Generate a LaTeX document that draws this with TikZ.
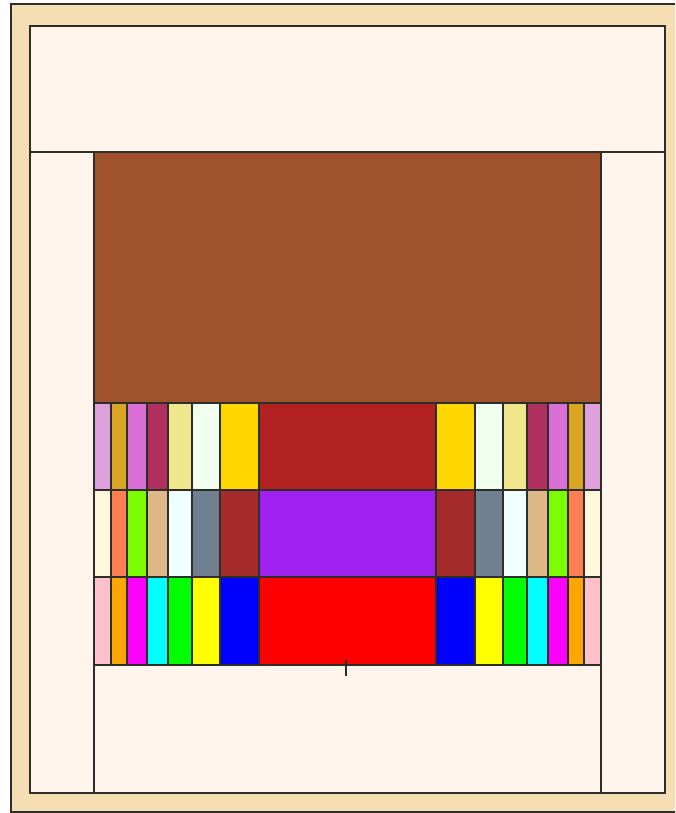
\documentclass[tikz,border=0pt]{standalone}
\definecolor{wheatc}{HTML}{F5DEB3}
\definecolor{creamc}{HTML}{FFF5EC}
\definecolor{siennac}{HTML}{A0522D}
\definecolor{linec}{HTML}{2E2E28}
\definecolor{plumc}{HTML}{DDA0DD}
\definecolor{goldenrodc}{HTML}{DAA520}
\definecolor{orchidc}{HTML}{DA70D6}
\definecolor{maroonc}{HTML}{B03060}
\definecolor{khakic}{HTML}{F0E68C}
\definecolor{honeydewc}{HTML}{F0FFF0}
\definecolor{goldc}{HTML}{FFD700}
\definecolor{firebrickc}{HTML}{B22222}
\definecolor{cornsilkc}{HTML}{FFF8DC}
\definecolor{coralc}{HTML}{FF7F50}
\definecolor{lawngreenc}{HTML}{7CFC00}
\definecolor{burlywoodc}{HTML}{DEB887}
\definecolor{azurec}{HTML}{F0FFFF}
\definecolor{slategrayc}{HTML}{708090}
\definecolor{brownc}{HTML}{A52A2A}
\definecolor{purplec}{HTML}{A020F0}
\definecolor{pinkc}{HTML}{FFC0CB}
\definecolor{orangec}{HTML}{FFA500}
\definecolor{magentac}{HTML}{FF00FF}
\definecolor{cyanc}{HTML}{00FFFF}
\definecolor{greenc}{HTML}{00FF00}
\definecolor{yellowc}{HTML}{FFFF00}
\definecolor{bluec}{HTML}{0000FF}
\definecolor{redc}{HTML}{FF0000}
\tikzset{
  edge/.style={draw=linec, line width=2.8pt, line join=miter},
  cell/.style={edge}
}
\begin{document}
\begin{tikzpicture}[x=1pt,y=-1pt]
\useasboundingbox (0,0) rectangle (675,813);
\clip (0,0) rectangle (675,813);
% frame
\fill[white] (0,0) rectangle (675,813);
\filldraw[edge, fill=wheatc] (11,4) rectangle (684,812);
\filldraw[edge, fill=creamc] (30,26) rectangle (665,793);
\draw[edge] (30,152) -- (665,152);
\draw[edge] (94,152) -- (94,793);
\draw[edge] (601,152) -- (601,793);
% brown block
\filldraw[cell, fill=siennac] (94,152) rectangle (601,403);
% row 1
\foreach \a/\b/\c in {94/111/plumc,111/127/goldenrodc,127/147/orchidc,147/168/maroonc,168/192/khakic,192/220/honeydewc,220/259/goldc,259/436/firebrickc,436/475/goldc,475/503/honeydewc,503/527/khakic,527/548/maroonc,548/568/orchidc,568/584/goldenrodc,584/601/plumc}
  \filldraw[cell, fill=\c] (\a,403) rectangle (\b,490);
% row 2
\foreach \a/\b/\c in {94/111/cornsilkc,111/127/coralc,127/147/lawngreenc,147/168/burlywoodc,168/192/azurec,192/220/slategrayc,220/259/brownc,259/436/purplec,436/475/brownc,475/503/slategrayc,503/527/azurec,527/548/burlywoodc,548/568/lawngreenc,568/584/coralc,584/601/cornsilkc}
  \filldraw[cell, fill=\c] (\a,490) rectangle (\b,577);
% row 3
\foreach \a/\b/\c in {94/111/pinkc,111/127/orangec,127/147/magentac,147/168/cyanc,168/192/greenc,192/220/yellowc,220/259/bluec,259/436/redc,436/475/bluec,475/503/yellowc,503/527/greenc,527/548/cyanc,548/568/magentac,568/584/orangec,584/601/pinkc}
  \filldraw[cell, fill=\c] (\a,577) rectangle (\b,665);
% small tick
\coordinate (t1) at (346,660);
\coordinate (t2) at (346,676);
\draw[linec, line width=2.4pt] (t1) -- (t2);
\end{tikzpicture}
\end{document}
